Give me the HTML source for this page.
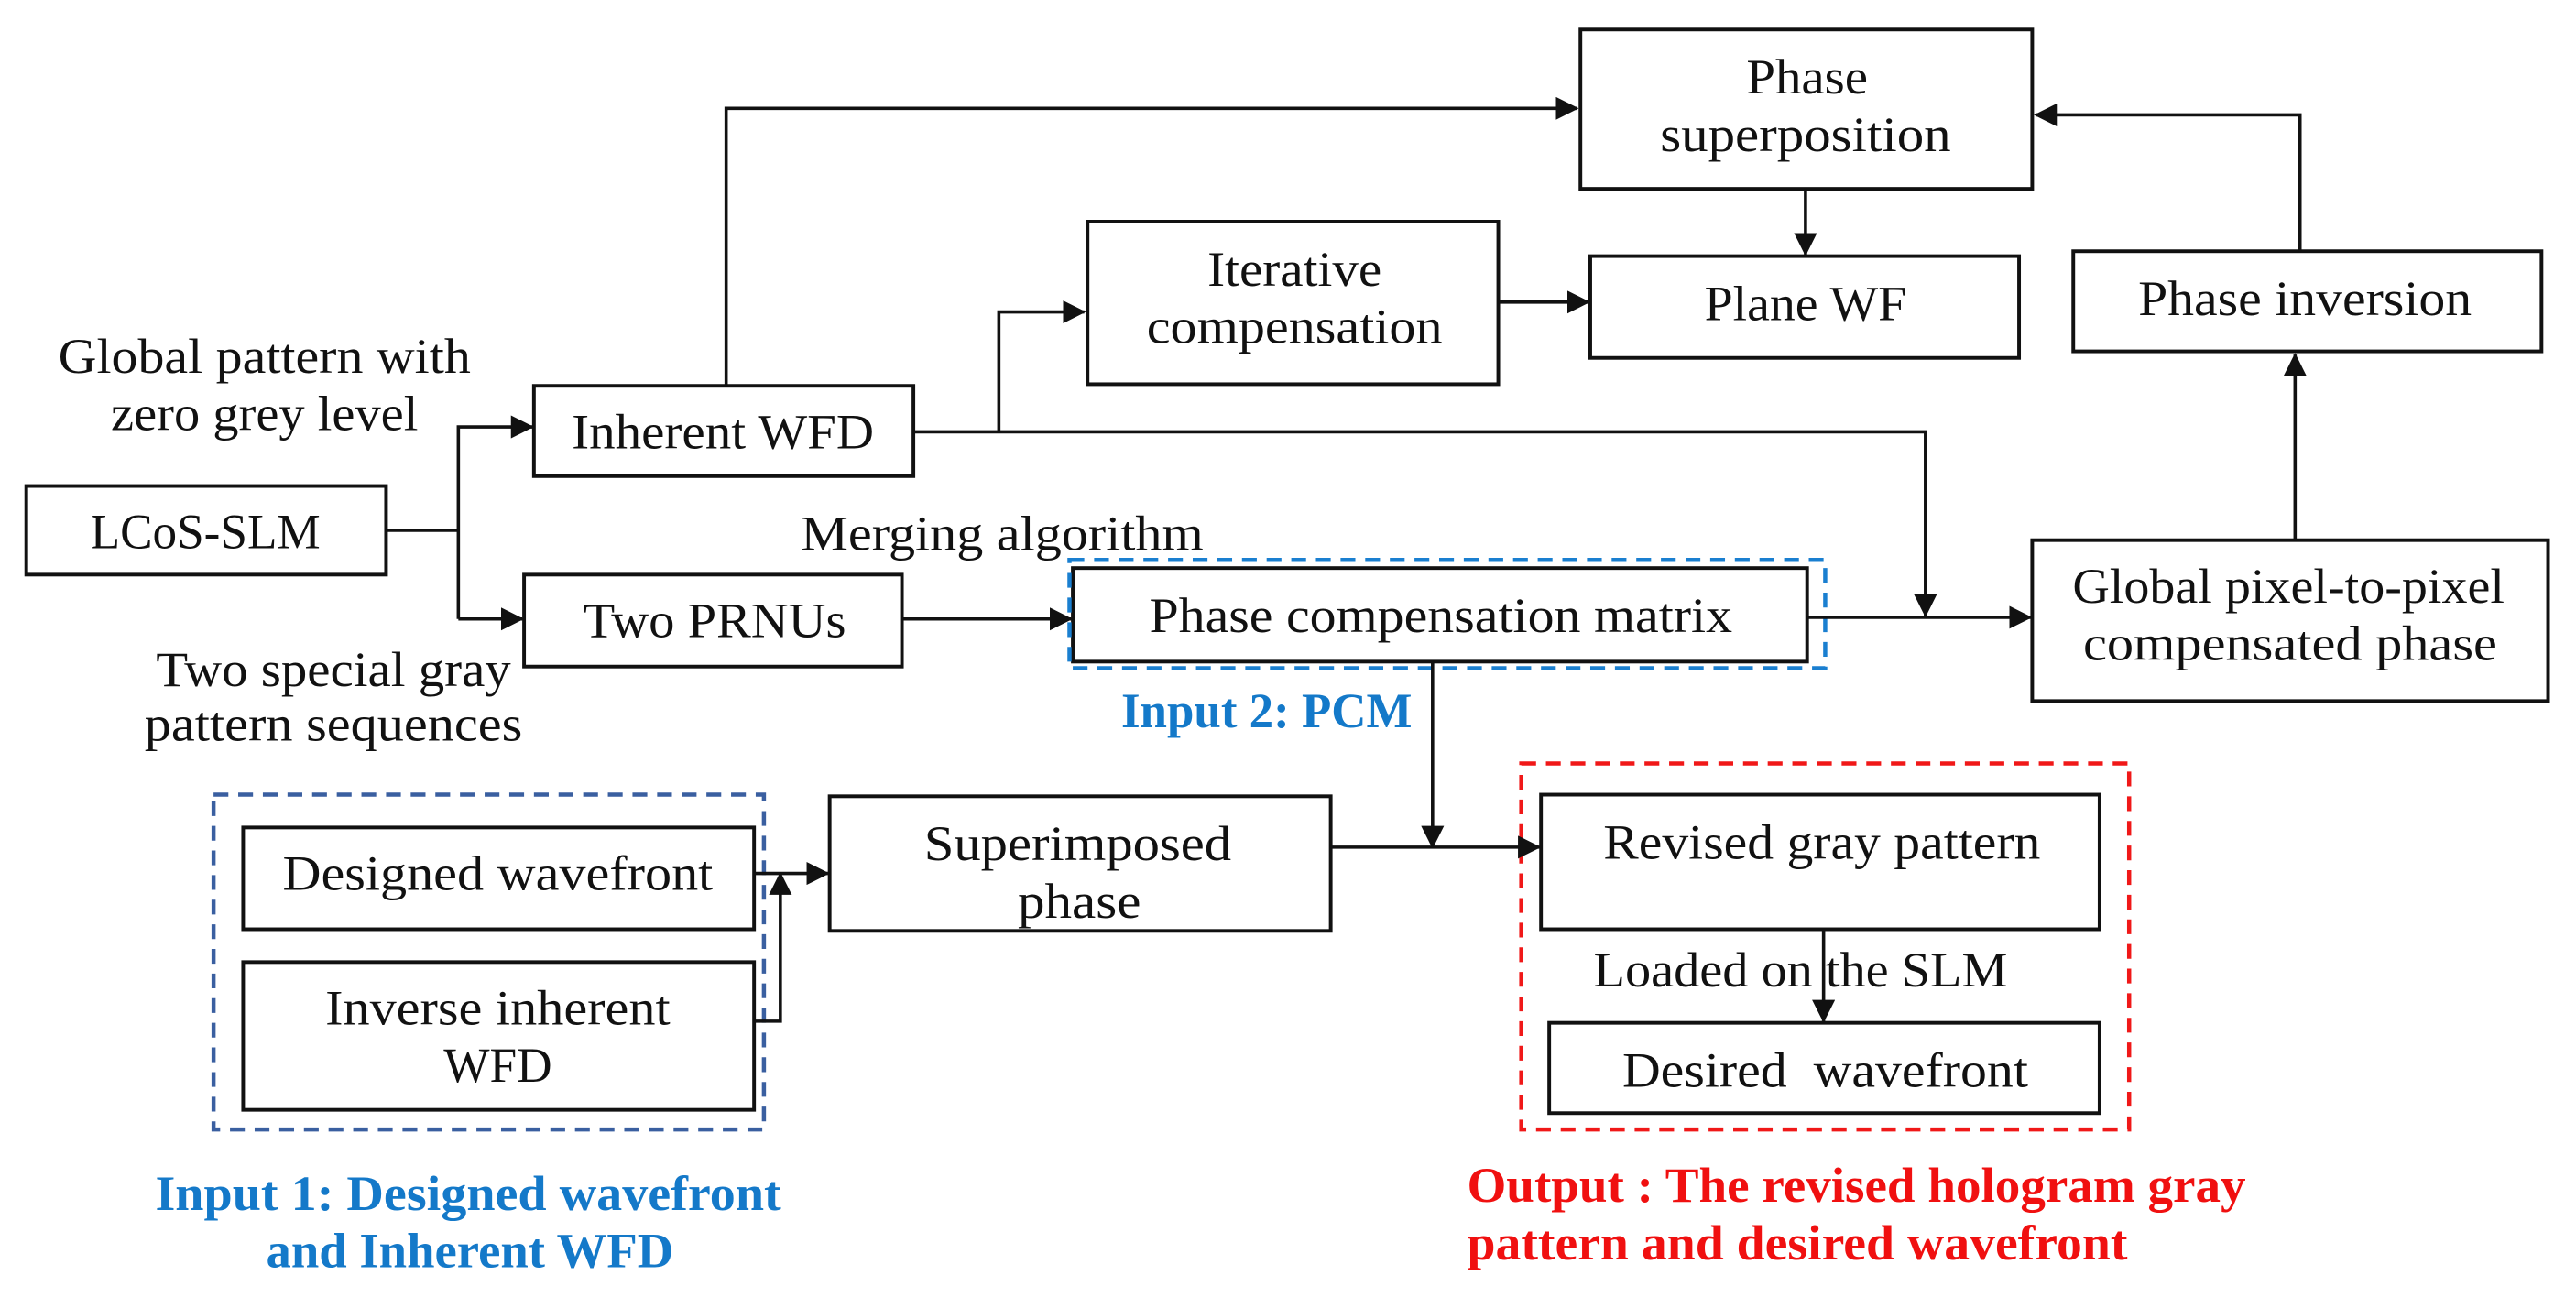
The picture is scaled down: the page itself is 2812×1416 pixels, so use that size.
<!DOCTYPE html>
<html><head><meta charset="utf-8"><style>
html,body{margin:0;padding:0;background:#fff;}
svg{display:block;}
text{font-family:"Liberation Serif",serif;font-size:30px;fill:#111;}
.b{fill:none;stroke:#111;stroke-width:2.2;}
.l{fill:none;stroke:#111;stroke-width:2;}
.blue{fill:#1479c9;font-weight:bold;}
.red{fill:#f01010;font-weight:bold;}
</style></head><body>
<svg width="2812" height="1416" viewBox="0 0 1568 790" preserveAspectRatio="none" xmlns="http://www.w3.org/2000/svg">
<defs>
<marker id="m" markerWidth="14" markerHeight="14" refX="13" refY="7" orient="auto" markerUnits="userSpaceOnUse"><path d="M0,0 L14,7 L0,14 z" fill="#111"/></marker></defs>

<rect class="b" x="962" y="18" width="275" height="97"/>
<rect class="b" x="662" y="135" width="250" height="99"/>
<rect class="b" x="968" y="156" width="261" height="62"/>
<rect class="b" x="1262" y="153" width="285" height="61"/>
<rect class="b" x="325" y="235" width="231" height="55"/>
<rect class="b" x="16" y="296" width="219" height="54"/>
<rect class="b" x="319" y="350" width="230" height="56"/>
<rect class="b" x="653" y="346" width="447" height="57"/>
<rect fill="none" stroke="#1a7fd0" stroke-width="2.5" stroke-dasharray="9,6" x="651" y="341" width="460" height="66"/>
<rect class="b" x="1237" y="329" width="314" height="98"/>
<rect fill="none" stroke="#3a5fa0" stroke-width="2.5" stroke-dasharray="9,6" x="130" y="484" width="335" height="204"/>
<rect class="b" x="148" y="504" width="311" height="62"/>
<rect class="b" x="148" y="586" width="311" height="90"/>
<rect class="b" x="505" y="485" width="305" height="82"/>
<rect fill="none" stroke="#f01818" stroke-width="2.5" stroke-dasharray="9,6" x="926" y="465" width="370" height="223"/>
<rect class="b" x="938" y="484" width="340" height="82"/>
<rect class="b" x="943" y="623" width="335" height="55"/>

<polyline class="l" points="442,235 442,66 960,66" marker-end="url(#m)"/>
<polyline class="l" points="556,263 1172,263 1172,375" marker-end="url(#m)"/>
<polyline class="l" points="608,263 608,190 660,190" marker-end="url(#m)"/>
<line class="l" x1="912" y1="184" x2="967" y2="184" marker-end="url(#m)"/>
<line class="l" x1="1099" y1="115" x2="1099" y2="155" marker-end="url(#m)"/>
<polyline class="l" points="1400,153 1400,70 1239,70" marker-end="url(#m)"/>
<line class="l" x1="1397" y1="329" x2="1397" y2="216" marker-end="url(#m)"/>
<line class="l" x1="1100" y1="376" x2="1236" y2="376" marker-end="url(#m)"/>
<line class="l" x1="235" y1="323" x2="279" y2="323"/>
<polyline class="l" points="279,377 279,260 324,260" marker-end="url(#m)"/>
<polyline class="l" points="279,377 318,377" marker-end="url(#m)"/>
<line class="l" x1="549" y1="377" x2="652" y2="377" marker-end="url(#m)"/>
<line class="l" x1="872" y1="403" x2="872" y2="516" marker-end="url(#m)"/>
<line class="l" x1="810" y1="516" x2="937" y2="516" marker-end="url(#m)"/>
<line class="l" x1="459" y1="532" x2="504" y2="532" marker-end="url(#m)"/>
<polyline class="l" points="459,622 475,622 475,532" marker-end="url(#m)"/>
<line class="l" x1="1110" y1="566" x2="1110" y2="622" marker-end="url(#m)"/>

<g lengthAdjust="spacingAndGlyphs">
<text lengthAdjust="spacingAndGlyphs" x="1100" y="57" text-anchor="middle" textLength="74">Phase</text>
<text lengthAdjust="spacingAndGlyphs" x="1099" y="92" text-anchor="middle" textLength="177">superposition</text>
<text lengthAdjust="spacingAndGlyphs" x="788" y="174" text-anchor="middle" textLength="106">Iterative</text>
<text lengthAdjust="spacingAndGlyphs" x="788" y="209" text-anchor="middle" textLength="180">compensation</text>
<text lengthAdjust="spacingAndGlyphs" x="1099" y="195" text-anchor="middle" textLength="123">Plane WF</text>
<text lengthAdjust="spacingAndGlyphs" x="1403" y="192" text-anchor="middle" textLength="203">Phase inversion</text>
<text lengthAdjust="spacingAndGlyphs" x="161" y="227" text-anchor="middle" textLength="251">Global pattern with</text>
<text lengthAdjust="spacingAndGlyphs" x="161" y="262" text-anchor="middle" textLength="187">zero grey level</text>
<text lengthAdjust="spacingAndGlyphs" x="440" y="273" text-anchor="middle" textLength="184">Inherent WFD</text>
<text lengthAdjust="spacingAndGlyphs" x="125" y="334" text-anchor="middle" textLength="140">LCoS-SLM</text>
<text lengthAdjust="spacingAndGlyphs" x="610" y="335" text-anchor="middle" textLength="245">Merging algorithm</text>
<text lengthAdjust="spacingAndGlyphs" x="435" y="388" text-anchor="middle" textLength="160">Two PRNUs</text>
<text lengthAdjust="spacingAndGlyphs" x="877" y="385" text-anchor="middle" textLength="355">Phase compensation matrix</text>
<text lengthAdjust="spacingAndGlyphs" x="1393" y="367" text-anchor="middle" textLength="263">Global pixel-to-pixel</text>
<text lengthAdjust="spacingAndGlyphs" x="1394" y="402" text-anchor="middle" textLength="252">compensated phase</text>
<text lengthAdjust="spacingAndGlyphs" x="203" y="418" text-anchor="middle" textLength="216">Two special gray</text>
<text lengthAdjust="spacingAndGlyphs" x="203" y="451" text-anchor="middle" textLength="230">pattern sequences</text>
<text lengthAdjust="spacingAndGlyphs" class="blue" x="771" y="443" text-anchor="middle" textLength="177">Input 2: PCM</text>
<text lengthAdjust="spacingAndGlyphs" x="303" y="542" text-anchor="middle" textLength="262">Designed wavefront</text>
<text lengthAdjust="spacingAndGlyphs" x="303" y="624" text-anchor="middle" textLength="210">Inverse inherent</text>
<text lengthAdjust="spacingAndGlyphs" x="303" y="659" text-anchor="middle" textLength="66">WFD</text>
<text lengthAdjust="spacingAndGlyphs" x="656" y="524" text-anchor="middle" textLength="187">Superimposed</text>
<text lengthAdjust="spacingAndGlyphs" x="657" y="559" text-anchor="middle" textLength="75">phase</text>
<text lengthAdjust="spacingAndGlyphs" x="1109" y="523" text-anchor="middle" textLength="266">Revised gray pattern</text>
<text lengthAdjust="spacingAndGlyphs" x="1096" y="601" text-anchor="middle" textLength="252">Loaded on the SLM</text>
<text lengthAdjust="spacingAndGlyphs" x="1111" y="662" text-anchor="middle" textLength="247" xml:space="preserve">Desired  wavefront</text>
<text lengthAdjust="spacingAndGlyphs" class="blue" x="285" y="737" text-anchor="middle" textLength="381">Input 1: Designed wavefront</text>
<text lengthAdjust="spacingAndGlyphs" class="blue" x="286" y="772" text-anchor="middle" textLength="248">and Inherent WFD</text>
<text lengthAdjust="spacingAndGlyphs" class="red" x="893" y="732" textLength="474">Output : The revised hologram gray</text>
<text lengthAdjust="spacingAndGlyphs" class="red" x="893" y="767" textLength="402">pattern and desired wavefront</text>
</g>
</svg>
</body></html>
